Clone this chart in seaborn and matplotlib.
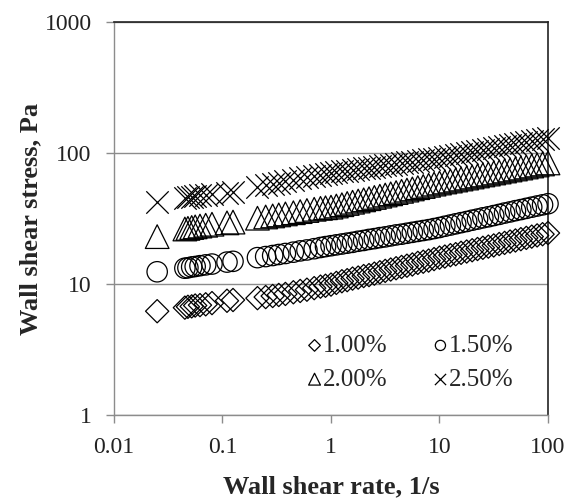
import matplotlib
matplotlib.use("Agg")
import matplotlib.pyplot as plt
import seaborn as sns

# Taxa de cisalhamento na parede (1/s), comum às quatro séries
taxa = [
    0.025, 0.045, 0.048, 0.052, 0.056, 0.062, 0.070, 0.080, 0.11, 0.125,
    0.21, 0.25, 0.29, 0.33, 0.38, 0.45, 0.52, 0.60, 0.70,
    0.80, 0.89, 1.0, 1.12, 1.26, 1.41, 1.58, 1.78, 2.0, 2.24, 2.51, 2.82,
    3.16, 3.55, 3.98, 4.47, 5.01, 5.62, 6.31, 7.08, 7.94, 8.91, 10.0,
    11.2, 12.6, 14.1, 15.8, 17.8, 20.0, 22.4, 25.1, 28.2, 31.6, 35.5,
    39.8, 44.7, 50.1, 56.2, 63.1, 70.8, 79.4, 89.1, 100.0
]

# Tensão de cisalhamento na parede (Pa) para cada concentração
tensao_100 = [
    6.2, 6.6, 6.7, 6.75, 6.85, 6.9, 7.0, 7.15, 7.45, 7.55,
    7.8, 7.95, 8.1, 8.25, 8.4, 8.65, 8.85, 9.05, 9.3,
    9.55, 9.7, 9.9, 10.2, 10.5, 10.7, 11.0, 11.2, 11.5, 11.7, 12.0, 12.3,
    12.6, 12.9, 13.2, 13.5, 13.8, 14.1, 14.5, 14.8, 15.1, 15.5, 15.9,
    16.2, 16.6, 16.9, 17.3, 17.7, 18.1, 18.5, 18.9, 19.3, 19.7, 20.2,
    20.6, 21.1, 21.5, 22.0, 22.5, 23.0, 23.5, 24.0, 24.5
]
tensao_150 = [
    12.4, 13.2, 13.3, 13.5, 13.6, 13.8, 14.0, 14.2, 14.7, 14.9,
    15.9, 16.2, 16.5, 16.8, 17.1, 17.5, 17.9, 18.2, 18.6,
    19.0, 19.3, 19.6, 19.9, 20.2, 20.5, 20.8, 21.2, 21.5, 21.9, 22.2, 22.6,
    22.9, 23.3, 23.7, 24.0, 24.4, 24.8, 25.2, 25.6, 26.0, 26.5, 27.0,
    27.6, 28.2, 28.8, 29.4, 30.0, 30.7, 31.3, 32.0, 32.6, 33.3, 34.0,
    34.8, 35.5, 36.3, 37.0, 37.8, 38.6, 39.4, 40.2, 41.0
]
tensao_200 = [
    23.0, 26.3, 26.6, 27.0, 27.3, 27.7, 28.1, 28.6, 29.3, 29.7,
    31.8, 32.5, 33.1, 33.7, 34.3, 35.0, 35.7, 36.4, 37.2,
    37.8, 38.2, 38.6, 39.4, 40.3, 41.2, 42.1, 43.0, 43.9, 44.8, 45.8, 46.8,
    47.8, 48.8, 49.9, 51.0, 52.1, 53.2, 54.4, 55.5, 56.7, 57.9, 59.0,
    60.1, 61.1, 62.2, 63.3, 64.4, 65.6, 66.8, 68.0, 69.1, 70.4, 71.6,
    72.9, 74.2, 75.5, 76.8, 78.2, 79.6, 81.0, 82.5, 84.0
]
tensao_250 = [
    42.0, 45.5, 46.0, 46.5, 47.0, 47.5, 48.0, 48.5, 49.5, 50.0,
    55.0, 56.5, 58.0, 59.5, 61.0, 62.5, 64.0, 65.5, 67.0,
    68.5, 69.5, 70.5, 71.4, 72.4, 73.4, 74.4, 75.4, 76.4, 77.4, 78.4, 79.5,
    80.5, 81.6, 82.7, 83.8, 84.9, 86.0, 87.2, 88.4, 89.6, 90.8, 92.0,
    93.6, 95.3, 96.9, 98.6, 100.3, 102.1, 103.9, 105.7, 107.6, 109.5, 111.4,
    113.3, 115.3, 117.3, 119.4, 121.5, 123.6, 125.8, 128.0, 130.0
]

rotulos = ["1.00%", "1.50%", "2.00%", "2.50%"]
series = [tensao_100, tensao_150, tensao_200, tensao_250]

sns.set_style("white")
plt.rcParams["font.family"] = ["Liberation Serif", "DejaVu Serif"]

fig = plt.figure(figsize=(5.74, 4.99), dpi=100)
ax = fig.add_axes([0.1986, 0.1683, 0.7561, 0.7876])

# Marcadores no estilo do gráfico original (contornos pretos, sem preenchimento)
estilos = [
    dict(marker="D", s=140),
    dict(marker="o", s=215),
    dict(marker="^", s=290),
    dict(marker="x", s=260),
]

for y, rotulo, est in zip(series, rotulos, estilos):
    if est["marker"] == "x":
        sns.scatterplot(x=taxa, y=y, ax=ax, marker="x", s=est["s"],
                        color="black", linewidth=0.9, label=rotulo,
                        clip_on=False, zorder=3)
    else:
        sns.scatterplot(x=taxa, y=y, ax=ax, marker=est["marker"], s=est["s"],
                        facecolor="none", edgecolor="black", linewidth=0.9,
                        label=rotulo, clip_on=False, zorder=3)

ax.set_xscale("log")
ax.set_yscale("log")
ax.set_xlim(0.01, 100)
ax.set_ylim(1, 1000)
ax.set_xticks([0.01, 0.1, 1, 10, 100])
ax.set_xticklabels(["0.01", "0.1", "1", "10", "100"])
ax.set_yticks([1, 10, 100, 1000])
ax.set_yticklabels(["1", "10", "100", "1000"])
ax.minorticks_off()

ax.grid(axis="y", color="#8c8c8c", linewidth=1.0)
ax.set_axisbelow(True)

for lado in ["left", "bottom"]:
    ax.spines[lado].set_color("#8c8c8c")
    ax.spines[lado].set_linewidth(1.0)
for lado in ["top", "right"]:
    ax.spines[lado].set_color("#222222")
    ax.spines[lado].set_linewidth(1.2)

ax.tick_params(axis="both", direction="out", length=6, width=1.0,
               color="#8c8c8c", labelsize=17, labelcolor="#222222")
ax.tick_params(axis="y", pad=10, left=True)
ax.tick_params(axis="x", pad=10, bottom=True)

ax.set_xlabel("Wall shear rate, 1/s", fontsize=19, fontweight="bold", labelpad=12)
ax.set_ylabel("Wall shear stress, Pa", fontsize=19, fontweight="bold", labelpad=2)

# Legenda em duas colunas: 1.00% e 1.50% na primeira linha
handles, labels = ax.get_legend_handles_labels()
ordem = [0, 2, 1, 3]
ax.legend([handles[i] for i in ordem], [labels[i] for i in ordem],
          ncol=2, frameon=False, markerscale=0.5, fontsize=18,
          loc="lower right", bbox_to_anchor=(0.95, 0.03),
          handlelength=0.6, handletextpad=0.05, columnspacing=1.8,
          labelspacing=0.45, borderpad=0)

fig.savefig("out.png", dpi=100)
